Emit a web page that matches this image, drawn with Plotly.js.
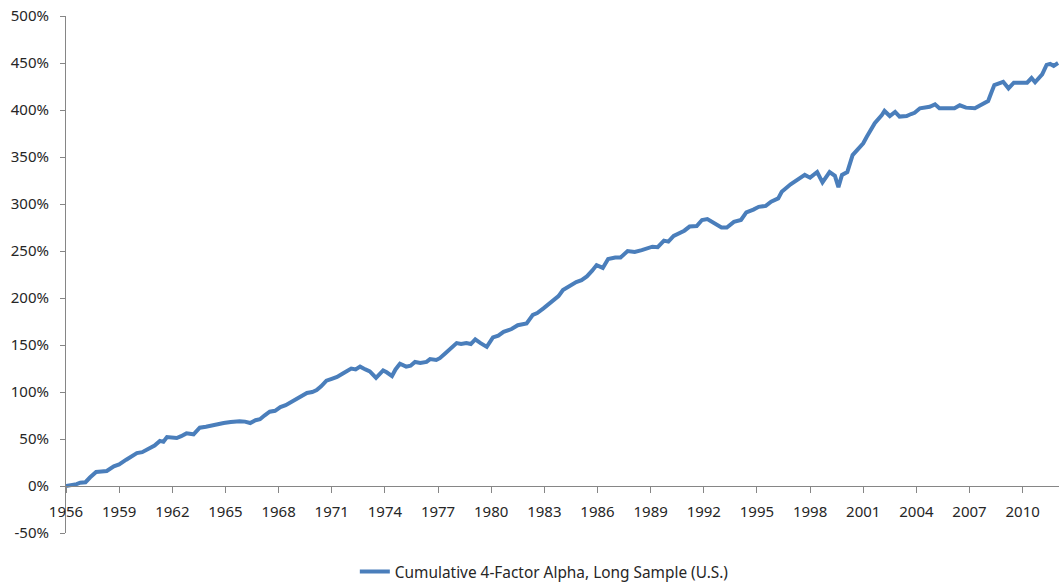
<!DOCTYPE html>
<html>
<head>
<meta charset="utf-8">
<script src="https://cdn.plot.ly/plotly-3.0.1.min.js"></script>
<style>
html,body{margin:0;padding:0;background:#fff;}
#chart{width:1059px;height:582px;}
</style>
</head>
<body>
<div id="chart"></div>
<script>
const seriesName = "Cumulative 4-Factor Alpha, Long Sample (U.S.)";
const years = [
1956.0,1956.3,1956.6,1956.8,1957.1,1957.35,1957.7,1958.0,1958.3,1958.7,
1959.0,1959.4,1959.7,1960.0,1960.3,1960.65,1961.0,1961.3,1961.5,1961.7,
1962.0,1962.25,1962.5,1962.8,1963.2,1963.55,1963.9,1964.3,1964.6,1964.9,
1965.3,1965.8,1966.1,1966.4,1966.7,1966.95,1967.2,1967.5,1967.8,1968.1,
1968.4,1968.8,1969.2,1969.6,1969.9,1970.15,1970.4,1970.7,1971.0,1971.3,
1971.65,1972.1,1972.35,1972.6,1972.9,1973.15,1973.5,1973.9,1974.1,1974.4,
1974.6,1974.85,1975.2,1975.45,1975.7,1976.0,1976.35,1976.55,1976.9,1977.1,
1977.4,1977.7,1978.05,1978.3,1978.6,1978.85,1979.1,1979.4,1979.75,1980.1,
1980.4,1980.7,1981.15,1981.5,1982.0,1982.35,1982.6,1982.95,1983.2,1983.5,
1983.8,1984.05,1984.4,1984.8,1985.1,1985.4,1985.7,1985.95,1986.3,1986.6,
1987.0,1987.3,1987.7,1988.1,1988.5,1989.1,1989.4,1989.75,1990.0,1990.3,
1990.9,1991.2,1991.6,1991.9,1992.2,1992.7,1993.0,1993.3,1993.7,1994.1,
1994.4,1994.8,1995.1,1995.5,1995.8,1996.2,1996.4,1996.9,1997.4,1997.7,
1998.0,1998.4,1998.7,1999.1,1999.4,1999.6,1999.8,2000.1,2000.4,2000.7,
2001.0,2001.2,2001.45,2001.65,2002.05,2002.2,2002.5,2002.8,2003.05,2003.45,
2003.7,2003.9,2004.2,2004.75,2005.05,2005.3,2005.6,2006.15,2006.45,2006.8,
2007.3,2007.65,2008.05,2008.25,2008.4,2008.9,2009.2,2009.5,2010.0,2010.25,
2010.5,2010.7,2011.1,2011.35,2011.55,2011.75,2012.0
];
const alphaPct = [
0,0.5,2,3.5,4,9,15,15.5,16,21,
23,28,31,35,36,39,43,48,47,52,
51.5,51,53,56,55,62,63,65,65.5,67,
68,69,68.5,67,70,71,75,79,80,84,
86,90,94,99,100,102,106,112,114,116,
120,125,124,127,124,122,115,123,121,117,
124,130,127,128,132,131,132,135,134,136,
141,146,152,151,152,151,156,152,148,158,
160,164,167,171,173,182,184,189,193,198,
202,208.5,213,217,219,223,229,235,232,241.5,
243,243,250,249,251,254.6,254,261,260,266,
271.6,276,276.6,283,284,278,275,275,281,283,
291,294,297,298,302.5,306,313,321,327,331,
328,334,323,334,330,318,331,334,352,359,
364.6,371.6,378.7,386,394.7,399,393.6,398,393,393.6,
395.7,397,401.8,403.5,406,401.8,401.8,401.8,405,402.5,
401.8,405,409.6,419.5,426.6,430,423,429,429,429,
434,429.5,438,448,449,447,450
];
const yTickVals = [-50,0,50,100,150,200,250,300,350,400,450,500];
const yTickText = yTickVals.map(v => v + "%");
const yRange = [-50, 500];
const xRange = [1956, 2012.05];

const fontFam = "Noto Sans, Open Sans, sans-serif";
const axisGray = "#868686";

Plotly.newPlot("chart", [{
  x: years,
  y: alphaPct,
  type: "scatter",
  mode: "lines",
  name: seriesName,
  line: {color: "#4A7EBB", width: 4},
  showlegend: true
}], {
  width: 1059,
  height: 582,
  margin: {l: 66, r: 0, t: 16, b: 49, autoexpand: false},
  paper_bgcolor: "#ffffff",
  plot_bgcolor: "#ffffff",
  font: {family: fontFam, size: 15, color: "#262626"},
  showlegend: true,
  legend: {
    orientation: "h",
    xref: "container", yref: "container",
    x: 0.514, xanchor: "center",
    y: 0.017, yanchor: "middle",
    font: {family: fontFam, size: 15.4, color: "#262626"},
    bgcolor: "rgba(0,0,0,0)"
  },
  xaxis: {
    range: xRange,
    anchor: "free",
    position: (0 - yRange[0]) / (yRange[1] - yRange[0]),
    tick0: 1956,
    dtick: 3,
    tickformat: "d",
    showgrid: false,
    zeroline: false,
    showline: true,
    linecolor: axisGray,
    linewidth: 1,
    ticks: "outside",
    ticklen: 6,
    tickcolor: axisGray,
    ticklabelstandoff: 6,
    tickfont: {family: fontFam, size: 15, color: "#262626"}
  },
  yaxis: {
    range: yRange,
    tickvals: yTickVals,
    ticktext: yTickText,
    showgrid: false,
    zeroline: false,
    showline: true,
    linecolor: axisGray,
    linewidth: 1,
    ticks: "outside",
    ticklen: 5,
    tickcolor: axisGray,
    ticklabelstandoff: 8,
    tickfont: {family: fontFam, size: 15, color: "#262626"}
  }
}, {displayModeBar: false, staticPlot: true});
</script>
</body>
</html>
